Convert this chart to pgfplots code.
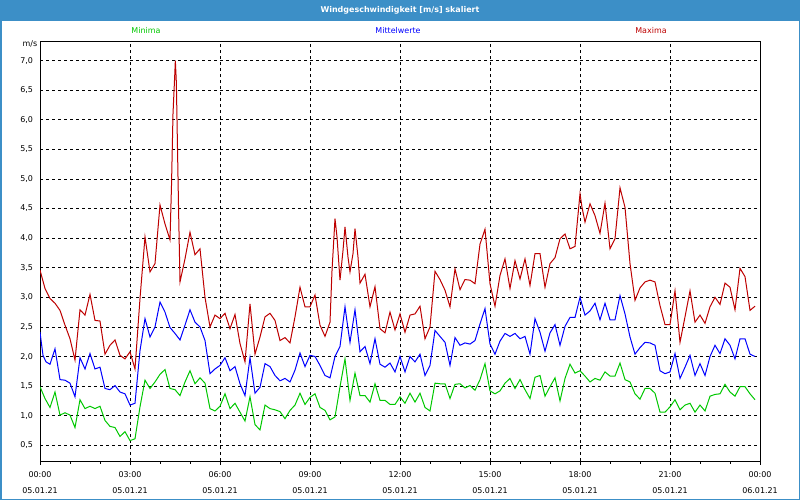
\documentclass[border=0pt]{standalone}
\usepackage{fontspec}
\setmainfont{DejaVu Sans}
\usepackage{pgfplots}
\usepackage{pgfplotstable}
\pgfplotsset{compat=1.18}
\definecolor{barblue}{RGB}{60,143,199}
\definecolor{maxred}{RGB}{190,0,0}
\definecolor{mingreen}{RGB}{0,200,0}
\definecolor{meanblue}{RGB}{0,0,255}

\pgfplotstableread{
k v
0 3.46
1 3.15
2 2.98
3 2.90
4 2.78
5 2.53
6 2.30
7 1.94
8 2.79
9 2.70
10 3.05
11 2.61
12 2.60
13 2.04
14 2.19
15 2.28
16 2.02
17 1.96
18 2.08
19 1.79
20 2.98
21 4.02
22 3.43
23 3.57
24 4.56
25 4.24
26 3.97
26.3 4.89
26.6 6.10
26.93 6.72
27.07 7.00
27.27 6.63
27.73 4.41
28 3.26
29 3.65
30 4.10
31 3.72
32 3.82
33 3.00
34 2.50
35 2.70
36 2.64
37 2.73
38 2.47
39 2.71
40 2.22
41 1.91
42 2.89
43 2.04
44 2.33
45 2.67
46 2.73
47 2.61
48 2.27
49 2.32
50 2.23
51 2.67
52 3.17
53 2.84
54 2.84
55 3.04
56 2.53
57 2.34
58 2.58
58.4 3.45
59 4.33
59.4 4.02
60 3.29
60.6 3.79
61 4.19
61.6 3.68
62 3.43
62.6 3.74
63 4.16
63.6 3.68
64 3.24
65 3.39
66 2.84
67 3.18
68 2.47
69 2.40
70 2.75
71 2.45
72 2.72
73 2.41
74 2.70
75 2.72
76 2.85
77 2.30
78 2.50
79 3.44
80 3.30
81 3.12
82 2.84
83 3.48
84 3.13
85 3.30
86 3.29
87 3.23
88 3.90
89 4.15
90 3.23
91 2.85
92 3.37
93 3.65
94 3.15
95 3.62
96 3.31
97 3.65
98 3.20
99 3.74
100 3.74
101 3.17
102 3.57
103 3.67
104 3.99
105 4.07
106 3.82
107 3.86
108 4.75
108.4 4.52
109 4.27
110 4.58
111 4.38
112 4.08
113 4.59
114 3.82
115 3.99
116 4.85
117 4.52
118 3.57
119 2.95
120 3.16
121 3.26
122 3.29
123 3.26
124 2.86
125 2.54
126 2.54
127 3.11
128 2.24
129 2.67
130 3.11
131 2.58
132 2.70
133 2.56
134 2.84
135 3.00
136 2.88
137 3.24
138 3.17
139 2.79
140 3.49
141 3.35
142 2.78
143 2.85
}\maxtab

\pgfplotstableread{
k v
0 2.41
0.6 2.02
1.2 1.91
2 1.87
3 2.13
4 1.61
5 1.60
6 1.55
7 1.32
8 1.98
9 1.79
10 2.05
11 1.79
12 1.82
13 1.46
14 1.44
15 1.51
16 1.40
17 1.37
18 1.18
19 1.21
20 2.10
21 2.64
22 2.33
23 2.50
24 2.92
25 2.75
26 2.49
27 2.39
28 2.28
29 2.53
30 2.79
31 2.58
32 2.50
33 2.27
34 1.71
35 1.79
36 1.85
37 1.98
38 1.76
39 1.83
40 1.54
41 1.34
42 1.98
43 1.38
44 1.48
45 1.88
46 1.83
47 1.68
48 1.59
49 1.63
50 1.57
51 1.77
52 2.06
53 1.83
54 2.02
55 2.00
56 1.85
57 1.68
58 1.64
59 2.00
60 2.17
61 2.84
61.6 2.47
62 2.24
63 2.79
64 2.08
65 2.17
66 1.88
67 2.30
68 1.87
69 1.82
70 1.89
71 1.74
72 2.00
73 1.74
74 2.00
75 1.91
76 2.04
77 1.68
78 1.85
79 2.44
80 2.34
81 2.24
82 1.85
83 2.32
84 2.19
85 2.23
86 2.21
87 2.27
88 2.55
89 2.81
90 2.21
91 2.04
92 2.26
93 2.39
94 2.34
95 2.39
96 2.30
97 2.34
98 2.04
99 2.64
100 2.41
101 2.09
102 2.40
103 2.54
104 2.19
105 2.51
106 2.66
107 2.66
108 3.00
109 2.70
110 2.77
111 2.90
112 2.62
113 2.90
114 2.62
115 2.62
116 3.03
117 2.72
118 2.33
119 2.04
120 2.15
121 2.24
122 2.23
123 2.19
124 1.76
125 1.71
126 1.74
127 2.05
128 1.63
129 1.82
130 2.02
131 1.68
132 1.88
133 1.68
134 2.00
135 2.19
136 2.05
137 2.30
138 2.19
139 1.96
140 2.30
141 2.30
142 2.04
143 2.00
}\meantab

\pgfplotstableread{
k v
0 1.49
1 1.29
2 1.14
3 1.40
4 1.01
5 1.05
6 1.01
7 0.80
8 1.27
9 1.12
10 1.16
11 1.12
12 1.16
13 0.92
14 0.82
15 0.80
16 0.65
17 0.73
18 0.58
19 0.61
20 1.15
21 1.60
22 1.46
23 1.57
24 1.70
25 1.78
26 1.46
27 1.44
28 1.34
29 1.57
30 1.76
31 1.54
32 1.64
33 1.55
34 1.12
35 1.08
36 1.16
37 1.37
38 1.12
39 1.21
40 1.06
41 0.91
42 1.32
43 0.85
44 0.76
45 1.18
46 1.12
47 1.10
48 1.07
49 0.95
50 1.09
51 1.18
52 1.38
53 1.19
54 1.31
55 1.37
56 1.14
57 1.09
58 0.93
59 0.98
60 1.49
61 1.96
62 1.26
63 1.72
64 1.34
65 1.34
66 1.23
67 1.54
68 1.26
69 1.26
70 1.19
71 1.19
72 1.32
73 1.21
74 1.38
75 1.23
76 1.38
77 1.14
78 1.08
79 1.55
80 1.54
81 1.54
82 1.29
83 1.53
84 1.54
85 1.47
86 1.51
87 1.43
88 1.61
89 1.88
90 1.42
91 1.37
92 1.42
93 1.55
94 1.63
95 1.46
96 1.61
97 1.44
98 1.29
99 1.65
100 1.68
101 1.33
102 1.49
103 1.64
104 1.25
105 1.63
106 1.87
107 1.72
108 1.76
109 1.67
110 1.57
111 1.63
112 1.60
113 1.74
114 1.67
115 1.67
116 1.89
117 1.61
118 1.57
119 1.37
120 1.28
121 1.46
122 1.46
123 1.38
124 1.06
125 1.06
126 1.15
127 1.27
128 1.10
129 1.18
130 1.21
131 1.06
132 1.18
133 1.08
134 1.33
135 1.36
136 1.37
137 1.53
138 1.40
139 1.33
140 1.49
141 1.49
142 1.37
143 1.27
}\mintab

\begin{document}
\begin{tikzpicture}[font=\fontsize{8}{9.6}\selectfont]
\fill[white] (0bp,0bp) rectangle (800bp,-500bp);
\fill[barblue] (0bp,0bp) rectangle (800bp,-21bp);
\draw[barblue, line width=1.5bp] (0.75bp,-0.75bp) rectangle (799.25bp,-499.25bp);
\node[text=white, font=\fontsize{8}{9.6}\selectfont\bfseries] at (400bp,-10.5bp) {Windgeschwindigkeit [m/s] skaliert};
\node[text=mingreen] at (146bp,-31bp) {Minima};
\node[text=meanblue] at (398bp,-31bp) {Mittelwerte};
\node[text=maxred] at (651bp,-31bp) {Maxima};
\node[anchor=east, inner sep=0pt] at (37.5bp,-44bp) {m/s};
\begin{axis}[
  at={(40bp,-461bp)}, anchor=south west,
  width=720bp, height=420bp, scale only axis,
  xmin=0, xmax=144, ymin=0.235, ymax=7.33,
  axis line style={black, line width=1bp},
  xtick={0,18,...,144},
  xticklabels={{00:00\\05.01.21},{03:00\\05.01.21},{06:00\\05.01.21},{09:00\\05.01.21},{12:00\\05.01.21},{15:00\\05.01.21},{18:00\\05.01.21},{21:00\\05.01.21},{00:00\\06.01.21}},
  minor x tick num=2,
  xtick pos=bottom, ytick pos=left,
  tick align=outside,
  x tick style={black, line width=0.8bp},
  major tick length=3.5bp, minor tick length=2.5bp,
  ytick={0.5,1,...,7},
  y tick style={draw=none},
  /pgf/number format/assume math mode=true,
  yticklabel style={/pgf/number format/.cd, use comma, fixed, fixed zerofill, precision=1},
  xticklabel style={align=center, font=\fontsize{8}{16}\selectfont, yshift=-4bp},
  grid=major,
  major grid style={black, line width=0.8bp, dash pattern=on 3bp off 3bp},
  tick label style={font=\fontsize{8}{16}\selectfont},
]
\addplot[mingreen, line width=1bp] table[x=k, y=v] {\mintab};
\addplot[meanblue, line width=1bp] table[x=k, y=v] {\meantab};
\addplot[maxred, line width=1bp] table[x=k, y=v] {\maxtab};
\end{axis}
\pgfresetboundingbox
\path[use as bounding box] (0bp,0bp) rectangle (800bp,-500bp);
\end{tikzpicture}
\end{document}
